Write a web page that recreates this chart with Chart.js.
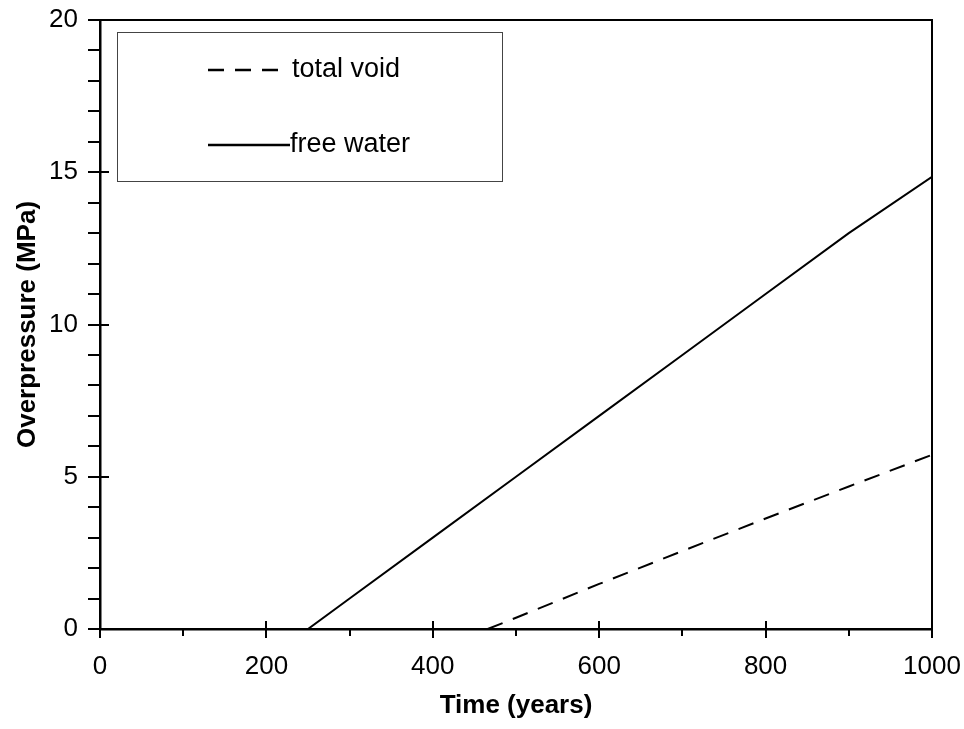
<!DOCTYPE html>
<html>
<head>
<meta charset="utf-8">
<script src="https://cdn.jsdelivr.net/npm/chart.js@4/dist/chart.umd.min.js"></script>
<style>
  html, body { margin: 0; padding: 0; background: #ffffff; }
  #wrap { width: 964px; height: 729px; position: relative; }
</style>
</head>
<body>
<div id="wrap"><canvas id="chart" width="964" height="729"></canvas></div>
<script>
// Overpressure build-up over time for two pore-space assumptions
const freeWaterYears = [250, 300, 400, 500, 600, 700, 800, 900, 1000];
const freeWaterMPa   = [0, 1.0, 3.0, 5.0, 7.0, 9.0, 11.0, 13.0, 14.85];

const totalVoidYears = [466, 500, 600, 700, 800, 900, 1000];
const totalVoidMPa   = [0, 0.37, 1.48, 2.56, 3.63, 4.68, 5.72];

const seriesLabels = ['total void', 'free water'];
const xMajorLabels = [0, 200, 400, 600, 800, 1000];
const yMajorLabels = [0, 5, 10, 15, 20];

const FONT = '"Liberation Sans", Arial, sans-serif';

function toPoints(xs, ys) {
  return xs.map((x, i) => ({ x: x, y: ys[i] }));
}

// Tick marks (major and minor), top/right frame, and the boxed legend
const framePlugin = {
  id: 'frame',
  afterDraw(chart) {
    const ctx = chart.ctx;
    const area = chart.chartArea;
    const xs = chart.scales.x;
    const ys = chart.scales.y;
    ctx.save();
    ctx.strokeStyle = '#000';
    ctx.lineCap = 'butt';

    // frame: top and right edges
    ctx.lineWidth = 2;
    ctx.beginPath();
    ctx.moveTo(area.left, area.top);
    ctx.lineTo(area.right, area.top);
    ctx.lineTo(area.right, area.bottom);
    ctx.stroke();

    // x ticks
    ctx.lineWidth = 2;
    xs.ticks.forEach(t => {
      const px = Math.round(xs.getPixelForValue(t.value));
      const major = xMajorLabels.includes(t.value);
      ctx.beginPath();
      ctx.moveTo(px, area.bottom + (major ? 9 : 7));
      ctx.lineTo(px, area.bottom - (major ? 8 : 0));
      ctx.stroke();
    });
    // y ticks
    ys.ticks.forEach(t => {
      const py = Math.round(ys.getPixelForValue(t.value));
      const major = yMajorLabels.includes(t.value);
      ctx.beginPath();
      ctx.moveTo(area.left - 12, py);
      ctx.lineTo(area.left + (major ? 9 : 0), py);
      ctx.stroke();
    });

    // legend box
    const bx = 117, by = 32, bw = 385, bh = 149;
    ctx.lineWidth = 1;
    ctx.strokeStyle = '#444';
    ctx.fillStyle = '#fff';
    ctx.fillRect(bx, by, bw, bh);
    ctx.strokeRect(bx + 0.5, by + 0.5, bw, bh);

    const rows = [70, 145];
    chart.data.datasets.forEach((ds, i) => {
      const y = rows[i];
      ctx.strokeStyle = ds.borderColor;
      ctx.lineWidth = ds.borderWidth + 0.5;
      ctx.setLineDash(ds.borderDash || []);
      ctx.beginPath();
      ctx.moveTo(208, y);
      ctx.lineTo(i === 0 ? 284 : 290, y);
      ctx.stroke();
      ctx.setLineDash([]);
      ctx.fillStyle = '#000';
      ctx.font = '27px ' + FONT;
      ctx.textBaseline = 'middle';
      ctx.textAlign = 'left';
      ctx.fillText(ds.label, i === 0 ? 292 : 290, y);
    });
    ctx.restore();
  }
};

new Chart(document.getElementById('chart'), {
  type: 'scatter',
  data: {
    datasets: [
      {
        label: seriesLabels[0],
        data: toPoints(totalVoidYears, totalVoidMPa),
        showLine: true,
        borderColor: '#000',
        borderWidth: 2,
        borderDash: [16, 11],
        pointRadius: 0,
        tension: 0,
        fill: false
      },
      {
        label: seriesLabels[1],
        data: toPoints(freeWaterYears, freeWaterMPa),
        showLine: true,
        borderColor: '#000',
        borderWidth: 2,
        pointRadius: 0,
        tension: 0,
        fill: false
      }
    ]
  },
  options: {
    responsive: false,
    animation: false,
    layout: { padding: { top: 20, right: 32, left: 0, bottom: 0 } },
    plugins: {
      legend: { display: false },
      tooltip: { enabled: false }
    },
    scales: {
      x: {
        type: 'linear',
        min: 0,
        max: 1000,
        afterFit(scale) {
          scale.height = 100;
          scale.paddingLeft = 0;
          scale.paddingRight = 0;
        },
        grid: { display: false, drawTicks: false },
        border: { display: true, color: '#000', width: 2.5 },
        ticks: {
          stepSize: 100,
          autoSkip: false,
          maxRotation: 0,
          padding: 22,
          color: '#000',
          font: { family: FONT, size: 26 },
          callback: v => (xMajorLabels.includes(v) ? String(v) : '')
        },
        title: {
          display: true,
          text: 'Time (years)',
          color: '#000',
          font: { family: FONT, size: 26, weight: 'bold' },
          padding: { top: 0, bottom: 8 }
        }
      },
      y: {
        type: 'linear',
        min: 0,
        max: 20,
        afterFit(scale) {
          scale.width = 100;
          scale.paddingTop = 0;
          scale.paddingBottom = 0;
        },
        grid: { display: false, drawTicks: false },
        border: { display: true, color: '#000', width: 2.5 },
        ticks: {
          stepSize: 1,
          autoSkip: false,
          padding: 22,
          color: '#000',
          font: { family: FONT, size: 26 },
          callback: v => (yMajorLabels.includes(v) ? String(v) : '')
        },
        title: {
          display: true,
          text: 'Overpressure (MPa)',
          color: '#000',
          font: { family: FONT, size: 26, weight: 'bold' },
          padding: { top: 12, bottom: 0 }
        }
      }
    }
  },
  plugins: [framePlugin]
});
</script>
</body>
</html>
